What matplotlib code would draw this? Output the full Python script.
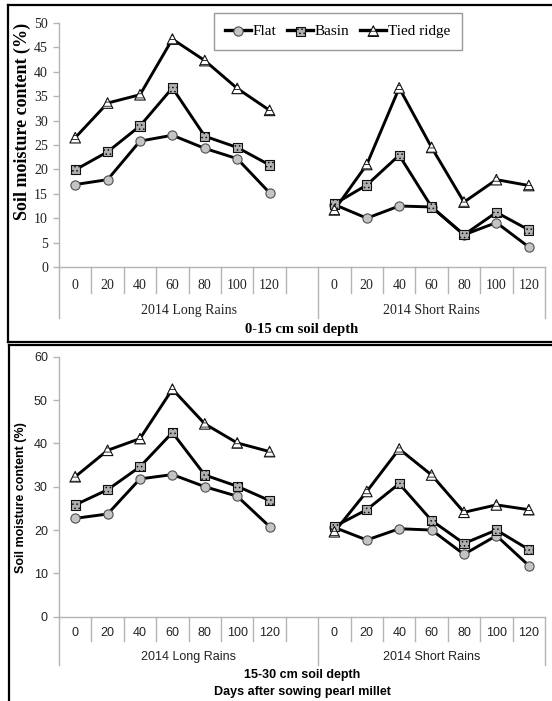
import matplotlib
matplotlib.use('Agg')
import matplotlib.pyplot as plt
from matplotlib.lines import Line2D
from matplotlib.legend_handler import HandlerTuple

days = ['0', '20', '40', '60', '80', '100', '120']
seasons = ['2014 Long Rains', '2014 Short Rains']
treatments = ['Flat', 'Basin', 'Tied ridge']

# 0-15 cm soil depth
top_long_flat = [16.9, 17.9, 25.8, 27.0, 24.3, 22.2, 15.2]
top_long_basin = [19.9, 23.6, 28.9, 36.7, 26.8, 24.5, 20.9]
top_long_tied = [26.5, 33.6, 35.3, 46.7, 42.3, 36.6, 32.1]
top_short_flat = [12.8, 10.0, 12.5, 12.3, 6.6, 9.1, 4.1]
top_short_basin = [12.9, 16.8, 22.9, 12.3, 6.6, 11.2, 7.6]
top_short_tied = [11.7, 21.0, 36.7, 24.5, 13.3, 17.9, 16.7]

# 15-30 cm soil depth
bot_long_flat = [22.7, 23.7, 31.8, 32.8, 30.0, 27.8, 20.8]
bot_long_basin = [25.8, 29.3, 34.6, 42.5, 32.7, 30.1, 26.8]
bot_long_tied = [32.3, 38.4, 41.1, 52.5, 44.5, 40.1, 38.1]
bot_short_flat = [20.6, 17.7, 20.3, 20.0, 14.4, 18.7, 11.8]
bot_short_basin = [20.8, 24.7, 30.7, 22.2, 16.9, 20.0, 15.5]
bot_short_tied = [19.6, 28.9, 38.7, 32.7, 24.1, 25.8, 24.7]

W, H = 552, 701
plt.rcParams['hatch.linewidth'] = 0.6

# marker looks: circle grey, dotted square, striped triangle
styles = {
    'Flat': dict(marker='o', s=44, facecolor='#c4c4c4', edgecolor='#505050', hatch=None),
    'Basin': dict(marker='s', s=44, facecolor='#b0b0b0', edgecolor='#111111', hatch='....'),
    'Tied ridge': dict(marker='^', s=58, facecolor='white', edgecolor='#111111', hatch='----'),
}

long_x = list(range(7))
short_x = [8 + i for i in range(7)]
GRID = '#b4b4b4'


def px_rect(x0, y0, x1, y1):
    return [x0 / W, 1 - y1 / H, (x1 - x0) / W, (y1 - y0) / H]


def draw_panel(ax, series_long, series_short, ymax, ystep, family, fs,
               tick_y, inner_y, outer_y, group_y):
    for name, yl, ys in zip(treatments, series_long, series_short):
        st = styles[name]
        for xs, ys_ in ((long_x, yl), (short_x, ys)):
            ax.plot(xs, ys_, color='black', lw=2.1, zorder=2)
            ax.scatter(xs, ys_, marker=st['marker'], s=st['s'],
                       facecolor=st['facecolor'], edgecolor=st['edgecolor'],
                       hatch=st['hatch'], linewidths=0.8, zorder=3)
    ax.set_xlim(-0.5, 14.5)
    ax.set_ylim(0, ymax)
    ax.set_yticks(range(0, ymax + 1, ystep))
    ax.set_xticks([])
    for sp in ['top', 'right']:
        ax.spines[sp].set_visible(False)
    for sp in ['left', 'bottom']:
        ax.spines[sp].set_color(GRID)
        ax.spines[sp].set_linewidth(1.0)
    ax.tick_params(axis='y', length=4, width=1.0, color=GRID, pad=4,
                   labelsize=fs, labelcolor='#222222')
    for lab in ax.get_yticklabels():
        lab.set_family(family)
    tr = ax.get_xaxis_transform()
    for b in [i - 0.5 for i in range(16)]:
        depth = outer_y if b in (-0.5, 7.5, 14.5) else inner_y
        ax.plot([b, b], [0, depth], transform=tr, clip_on=False,
                color=GRID, lw=1.0)
    for x, d in zip(long_x + short_x, days + days):
        ax.text(x, tick_y, d, transform=tr, ha='center', va='center',
                fontsize=fs, family=family, color='#222222')
    for x, s in zip([3.5, 11], seasons):
        ax.text(x, group_y, s, transform=tr, ha='center', va='center',
                fontsize=fs, family=family, color='#222222')


fig = plt.figure(figsize=(W / 100, H / 100), dpi=100)

# panel frames
fig.add_artist(plt.Line2D([8 / W, 1], [1 - 5 / H, 1 - 5 / H], color='black', lw=1.6))
fig.add_artist(plt.Line2D([8 / W, 8 / W], [1 - 5 / H, 1 - 341.5 / H], color='black', lw=1.6))
fig.add_artist(plt.Line2D([8 / W, 1], [1 - 341.5 / H, 1 - 341.5 / H], color='black', lw=1.6))
fig.add_artist(plt.Line2D([9 / W, 1], [1 - 345 / H, 1 - 345 / H], color='black', lw=1.6))
fig.add_artist(plt.Line2D([9 / W, 9 / W], [1 - 345 / H, 0], color='black', lw=1.6))

ax1 = fig.add_axes(px_rect(59, 23, 545, 267))
draw_panel(ax1, [top_long_flat, top_long_basin, top_long_tied],
           [top_short_flat, top_short_basin, top_short_tied],
           50, 5, 'Liberation Serif', 10,
           tick_y=-0.074, inner_y=-0.107, outer_y=-0.209, group_y=-0.180)
fig.text(22 / W, 1 - 121 / H, 'Soil moisture content (%)', rotation=90,
         ha='center', va='center', fontsize=13, fontweight='bold',
         family='Liberation Serif')
ax1.text(0.5, -0.258, '0-15 cm soil depth', transform=ax1.transAxes,
         ha='center', va='center', fontsize=10.5, fontweight='bold',
         family='Liberation Serif')

handles = []
for name in treatments:
    st = styles[name]
    ln = Line2D([], [], color='black', lw=2.4)
    sc = ax1.scatter([], [], marker=st['marker'], s=st['s'],
                     facecolor=st['facecolor'], edgecolor=st['edgecolor'],
                     hatch=st['hatch'], linewidths=0.8)
    handles.append((ln, sc))
leg = ax1.legend(handles, treatments, handler_map={tuple: HandlerTuple(ndivide=1)},
                 ncol=3, loc='upper left', bbox_to_anchor=(214 / W, 1 - 13 / H),
                 bbox_transform=fig.transFigure, borderaxespad=0,
                 fancybox=False, frameon=True, scatterpoints=1,
                 edgecolor='#999999', framealpha=1, handlelength=1.7,
                 handletextpad=0.1, columnspacing=0.7, borderpad=0.75,
                 prop={'family': 'Liberation Serif', 'size': 11})
leg.get_frame().set_linewidth(1.0)

ax2 = fig.add_axes(px_rect(59, 356.7, 545, 616.7))
draw_panel(ax2, [bot_long_flat, bot_long_basin, bot_long_tied],
           [bot_short_flat, bot_short_basin, bot_short_tied],
           60, 10, 'Liberation Sans', 9,
           tick_y=-0.0615, inner_y=-0.0935, outer_y=-0.186, group_y=-0.154)
fig.text(21 / W, 1 - 498 / H, 'Soil moisture content (%)', rotation=90,
         ha='center', va='center', fontsize=9, fontweight='bold',
         family='Liberation Sans')
ax2.text(0.5, -0.224, '15-30 cm soil depth', transform=ax2.transAxes,
         ha='center', va='center', fontsize=9, fontweight='bold',
         family='Liberation Sans')
ax2.text(0.5, -0.288, 'Days after sowing pearl millet', transform=ax2.transAxes,
         ha='center', va='center', fontsize=9, fontweight='bold',
         family='Liberation Sans')

fig.savefig('out.png', dpi=100)
plt.close(fig)
